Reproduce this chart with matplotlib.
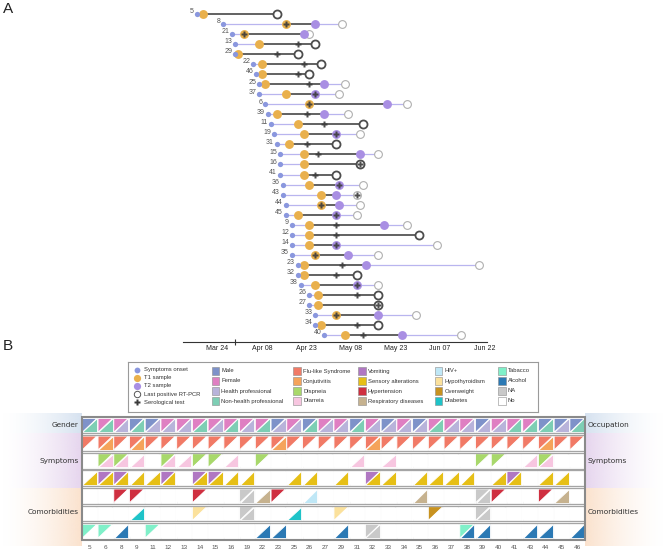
import numpy as np
import matplotlib
matplotlib.use('Agg')
import matplotlib.pyplot as plt
from matplotlib.patches import Polygon, Rectangle
import datetime as dt

# ---------------- DATA: panel A (days since 2020-03-24) ----------------
base_date = np.datetime64('2020-03-24')
ids_A = [5, 8, 21, 13, 29, 22, 46, 25, 37, 6, 39, 11, 19, 31, 15, 16, 41, 36, 43, 44, 45,
         9, 12, 14, 35, 23, 32, 38, 26, 27, 33, 34, 40]
nan = np.nan
onset = [-7, 2, 5, 6, 6, 12, 13, 14, 14, 16, 17, 18, 19, 20, 21, 21, 21, 22, 22, 23, 23,
         25, 25, 25, 25, 27, 27, 28, 31, 31, 33, 33, 36]
t1 = [-5, 23, 9, 14, 7, 15, 15, 16, 23, 31, 20, 27, 29, 24, 29, 29, 29, 31, 35, 35, 27,
      31, 31, 31, 33, 29, 29, 33, 34, 34, 40, 35, 43]
t2 = [nan, 33, 29, nan, nan, nan, nan, 36, 33, 57, 36, nan, 40, nan, 48, nan, nan, 41, 40, 41, 40,
      56, nan, 40, 44, 50, nan, 47, nan, nan, 54, nan, 62]
sero = [nan, 23, 9, 27, 20, 29, 27, 31, 33, 31, 30, 36, 40, 30, 34, 48, 33, 41, 47, 35, 40,
        40, 40, 40, 33, 42, 40, 47, 47, 54, 40, 47, 49]
pcr = [20, 42, 31, 33, 27, 35, 31, 43, 41, 64, 44, 49, 48, 40, 54, 48, 40, 49, 47, 48, 47,
       64, 68, 74, 54, 88, 47, 54, 54, 54, 67, 54, 82]
tick_days = [0, 15, 30, 45, 60, 75, 90]

# ---------------- DATA: panel B ----------------
ids_B = [5, 6, 8, 9, 11, 12, 13, 14, 15, 16, 19, 22, 23, 25, 26, 27, 29, 31, 32, 33,
         34, 35, 36, 37, 38, 39, 40, 41, 43, 44, 45, 46]
gender = list("MFFMMFFFFFFFMFMFFMFMFMFFFMFFFMMM")
occupation = list("NNHNHHHNHNHNHHNHHNHHHHNHHHHNNNHN")
flu_like = ids_B
conjutivitis = [6, 9, 23, 32, 44]
dispneia = [6, 8, 12, 14, 15, 22, 39, 40, 44]
diarreia = [6, 8, 9, 12, 13, 16, 31, 33, 43, 44]
vomiting = [6, 8, 12, 14, 15, 32, 41]
sensory = [5, 6, 8, 9, 11, 12, 14, 15, 16, 19, 25, 26, 29, 32, 33, 35, 36, 37, 38, 40, 41, 44, 45]
hypertension = [8, 9, 14, 23, 40, 44]
respiratory = [22, 35, 45]
hiv = [26]
hypothyroidism = [14, 29]
overweight = [36]
diabetes = [9, 25]
tabacco = [5, 6, 11, 38]
alcohol = [8, 22, 23, 29, 38, 39, 43, 44, 46]
na_comorb_1 = [19, 39]
na_comorb_2 = [19, 39]
na_comorb_3 = [32]

# ---------------- colours ----------------
C = {
    'Male': '#7e92c9', 'Female': '#df7fc2', 'Health professional': '#b8b3da',
    'Non-health professional': '#7dceb4', 'Flu-like Syndrome': '#f17a66',
    'Conjutivitis': '#f5a35a', 'Dispneia': '#a8d86b', 'Diarreia': '#f7c6e0',
    'Vomiting': '#b077c2', 'Sensory alterations': '#e6bf16', 'Hypertension': '#cf2f40',
    'Respiratory diseases': '#c6b28f', 'HIV+': '#bfe7f6', 'Hypothyroidism': '#fbe19c',
    'Overweight': '#c8921f', 'Diabetes': '#1ec3c8', 'Tabacco': '#80f0c9',
    'Alcohol': '#2b79b4', 'NA': '#c9c9c9', 'No': '#ffffff'}
ONSET_C, T1_C, T2_C, SERO_C = '#8a97de', '#e9b04c', '#a98fe3', '#3b3b3b'
LIGHT, DARK = '#b9b5ef', '#555555'

W, H = 666, 557
fig = plt.figure(figsize=(W / 100, H / 100), dpi=100)


def px_axes(x0, y0, x1, y1, z=1):
    ax = fig.add_axes([x0 / W, 1 - y1 / H, (x1 - x0) / W, (y1 - y0) / H], zorder=z)
    ax.set_facecolor('none')
    return ax


# ---------------- background ----------------
bg = px_axes(0, 0, W, H, z=0)
bands = [(413, 433, '#d6e2f0'), (433, 488, '#e6d5ee'), (488, 546, '#fbe2cd')]
ramp = np.linspace(0, 1, 256) ** 1.6
for y0, y1, col in bands:
    rgb = matplotlib.colors.to_rgb(col)
    img = np.zeros((1, 256, 4))
    img[..., :3] = rgb
    img[0, :, 3] = ramp
    bg.imshow(img, extent=(0, 82, y1, y0), aspect='auto', interpolation='bilinear')
    img2 = img.copy()
    img2[0, :, 3] = ramp[::-1]
    bg.imshow(img2, extent=(585, 666, y1, y0), aspect='auto', interpolation='bilinear')
bg.set_xlim(0, W)
bg.set_ylim(H, 0)
bg.axis('off')
lab_kw = dict(fontsize=5.3, color='#333333', family='DejaVu Sans', va='center')
bg.text(79, 425, 'Gender', ha='right', **lab_kw)
bg.text(79, 460.5, 'Symptoms', ha='right', **lab_kw)
bg.text(79, 512.5, 'Comorbidities', ha='right', **lab_kw)
bg.text(588, 425, 'Occupation', ha='left', **lab_kw)
bg.text(588, 460.5, 'Symptoms', ha='left', **lab_kw)
bg.text(588, 512.5, 'Comorbidities', ha='left', **lab_kw)
bg.text(3, 13, 'A', fontsize=11, family='Liberation Sans', color='#222222')
bg.text(3, 350, 'B', fontsize=11, family='Liberation Sans', color='#222222')

# ---------------- panel A ----------------
axA = px_axes(183, 5, 487, 342, z=2)
n = len(ids_A)
for i in range(n):
    on, a, b, s, p = onset[i], t1[i], t2[i], sero[i], pcr[i]
    axA.plot([on, a], [i, i], color=LIGHT, lw=0.9, zorder=1, solid_capstyle='butt')
    end_dark = p if np.isnan(b) else b
    axA.plot([a, end_dark], [i, i], color=DARK, lw=1.3, zorder=2, solid_capstyle='butt')
    if not np.isnan(b):
        axA.plot([b, p], [i, i], color=LIGHT, lw=0.9, zorder=1, solid_capstyle='butt')
    if np.isnan(b):
        axA.plot(p, i, 'o', ms=5.8, mfc='white', mec='#4d4d4d', mew=1.3, zorder=3)
    else:
        axA.plot(p, i, 'o', ms=5.6, mfc='white', mec='#b0b0b0', mew=0.8, zorder=3)
    axA.plot(a, i, 'o', ms=6.4, color=T1_C, mec='none', zorder=4)
    if not np.isnan(b):
        axA.plot(b, i, 'o', ms=6.4, color=T2_C, mec='none', zorder=4)
    axA.plot(on, i, 'o', ms=3.8, color=ONSET_C, mec='none', zorder=5)
    if not np.isnan(s):
        axA.plot(s, i, 'P', ms=4.0, color=SERO_C, mec='none', alpha=0.9, zorder=6)
    axA.annotate(str(ids_A[i]), (on, i), xytext=(-2.0, 1.6), textcoords='offset points',
                 ha='right', va='center', fontsize=5, color='#555555',
                 family='Liberation Sans')
axA.set_xlim(-11.6, 90.8)
axA.set_ylim(n - 1 + 0.7, -0.9)
for sp in ['top', 'right', 'left']:
    axA.spines[sp].set_visible(False)
axA.spines['bottom'].set_color('#333333')
axA.spines['bottom'].set_linewidth(0.8)
axA.set_yticks([])
axA.set_xticks(tick_days)
axA.set_xticklabels([(base_date + np.timedelta64(int(d), 'D')).astype(dt.date).strftime('%b %d')
                     for d in tick_days], fontsize=5, family='Liberation Sans', color='#222222')
axA.tick_params(axis='x', length=0, pad=2.5)
axA.set_xticks([6], minor=True)
axA.tick_params(axis='x', which='minor', length=4, width=0.8, direction='inout', color='#333333')

# ---------------- panel B heatmap ----------------
axB = px_axes(81.7, 416.5, 585, 540, z=2)
ncol = len(ids_B)
nrow = 7


def pick(pid, options):
    for plist, name in options:
        if pid in plist:
            return C[name]
    return C['No']


males = [p for p, g in zip(ids_B, gender) if g == 'M']
females = [p for p, g in zip(ids_B, gender) if g == 'F']
health = [p for p, o in zip(ids_B, occupation) if o == 'H']
nonhealth = [p for p, o in zip(ids_B, occupation) if o == 'N']

row_spec = [
    ([(males, 'Male'), (females, 'Female')],
     [(health, 'Health professional'), (nonhealth, 'Non-health professional')]),
    ([(flu_like, 'Flu-like Syndrome')], [(conjutivitis, 'Conjutivitis')]),
    ([(dispneia, 'Dispneia')], [(diarreia, 'Diarreia')]),
    ([(vomiting, 'Vomiting')], [(sensory, 'Sensory alterations')]),
    ([(na_comorb_1, 'NA'), (hypertension, 'Hypertension')],
     [(na_comorb_1, 'NA'), (hiv, 'HIV+'), (respiratory, 'Respiratory diseases')]),
    ([(na_comorb_2, 'NA'), (hypothyroidism, 'Hypothyroidism'), (overweight, 'Overweight')],
     [(na_comorb_2, 'NA'), (diabetes, 'Diabetes')]),
    ([(na_comorb_3, 'NA'), (tabacco, 'Tabacco')], [(na_comorb_3, 'NA'), (alcohol, 'Alcohol')]),
]

ix, iy = 0.04, 0.11
for r, (ul_opts, lr_opts) in enumerate(row_spec):
    for c, pid in enumerate(ids_B):
        x0, x1 = c + ix, c + 1 - ix
        yt, yb = r + iy, r + 1 - iy
        axB.add_patch(Rectangle((x0, yt), x1 - x0, yb - yt, facecolor='white',
                                edgecolor='#dddddd', lw=0.5, zorder=1))
        ulc = pick(pid, ul_opts)
        lrc = pick(pid, lr_opts)
        axB.add_patch(Polygon([(x0, yt), (x1, yt), (x0, yb)], closed=True, facecolor=ulc,
                              edgecolor='white', lw=0.6, zorder=2))
        axB.add_patch(Polygon([(x1, yt), (x1, yb), (x0, yb)], closed=True, facecolor=lrc,
                              edgecolor='white', lw=0.6, zorder=2))
for r in range(1, nrow):
    for off in (-0.05, 0.05):
        axB.plot([0, ncol], [r + off, r + off], color='#a5a5a5', lw=0.9, zorder=3)
axB.add_patch(Rectangle((0, 0), ncol, nrow, facecolor='none', edgecolor='#8a8a8a', lw=1.5,
                        zorder=4, clip_on=False))
axB.set_xlim(0, ncol)
axB.set_ylim(nrow, 0)
axB.axis('off')
for c, pid in enumerate(ids_B):
    axB.text(c + 0.5, nrow + 0.42, str(pid), ha='center', va='center', fontsize=4.6,
             color='#555555', family='Liberation Sans')

# ---------------- legend ----------------
axL = px_axes(127.7, 361.7, 538, 411.7, z=3)
axL.set_xlim(127.7, 538)
axL.set_ylim(411.7, 361.7)
axL.set_xticks([])
axL.set_yticks([])
axL.set_facecolor('white')
for sp in axL.spines.values():
    sp.set_color('#9a9a9a')
    sp.set_linewidth(0.8)
tkw = dict(fontsize=4.2, family='Liberation Sans', color='#333333', va='center', ha='left')
mk_rows = [370, 378, 386, 394.3, 402.3]
axL.plot(137.2, mk_rows[0], 'o', ms=4.2, color=ONSET_C, mec='none')
axL.plot(137.2, mk_rows[1], 'o', ms=5.2, color=T1_C, mec='none')
axL.plot(137.2, mk_rows[2], 'o', ms=5.2, color=T2_C, mec='none')
axL.plot(137.2, mk_rows[3], 'o', ms=4.6, mfc='white', mec='#555555', mew=0.7)
axL.plot(137.2, mk_rows[4], 'P', ms=4.2, color=SERO_C, mec='none')
for y, t in zip(mk_rows, ['Symptoms onset', 'T1 sample', 'T2 sample', 'Last positive RT-PCR',
                          'Serological test']):
    axL.text(143.5, y, t, **tkw)

leg_cols = [
    (215.3, ['Male', 'Female', 'Health professional', 'Non-health professional']),
    (297.0, ['Flu-like Syndrome', 'Conjutivitis', 'Dispneia', 'Diarreia']),
    (362.0, ['Vomiting', 'Sensory alterations', 'Hypertension', 'Respiratory diseases']),
    (438.3, ['HIV+', 'Hypothyroidism', 'Overweight', 'Diabetes']),
    (502.0, ['Tabacco', 'Alcohol', 'NA', 'No']),
]
sq_rows = [371, 381, 391, 401]
for xc, names in leg_cols:
    for y, nm in zip(sq_rows, names):
        axL.add_patch(Rectangle((xc - 3.7, y - 3.7), 7.4, 7.4, facecolor=C[nm],
                                edgecolor='#8c8c8c', lw=0.4))
        axL.text(xc + 6.0, y, nm, **tkw)

fig.savefig('out.png', dpi=100)
